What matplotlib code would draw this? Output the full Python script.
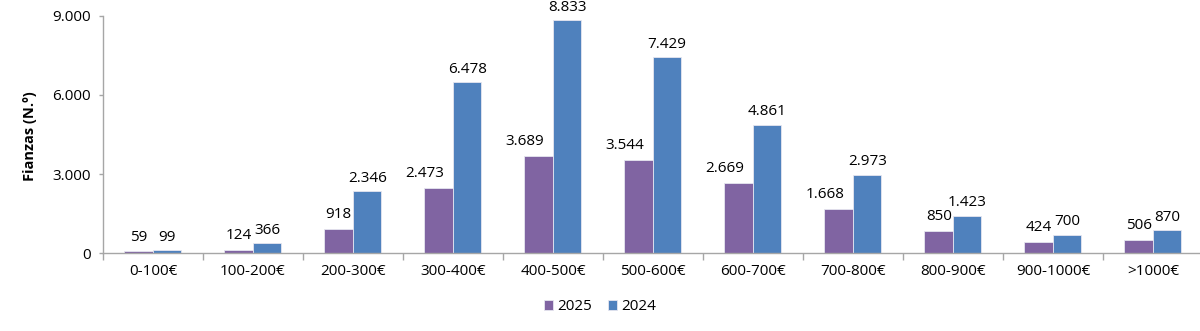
import matplotlib.pyplot as plt
import numpy as np
from matplotlib.ticker import FuncFormatter

plt.rcParams['font.family'] = ['Open Sans', 'DejaVu Sans']

# rangos de renta
categorias = ['0-100€', '100-200€', '200-300€', '300-400€', '400-500€', '500-600€',
              '600-700€', '700-800€', '800-900€', '900-1000€', '>1000€']
fianzas_2025 = [59, 124, 918, 2473, 3689, 3544, 2669, 1668, 850, 424, 506]
fianzas_2024 = [99, 366, 2346, 6478, 8833, 7429, 4861, 2973, 1423, 700, 870]

morado = '#8064A2'
azul = '#4F81BD'
gris = '#A6A6A6'

def miles(v):
    return f'{v:,.0f}'.replace(',', '.')

fig = plt.figure(figsize=(12, 3.31), dpi=100)
ax = fig.add_axes([0.0858, 0.2356, 0.9167, 0.7161])

x = np.arange(len(categorias))
w = 0.285
b1 = ax.bar(x - w / 2, fianzas_2025, w, color=morado, edgecolor='#E6E6F0', linewidth=0.6, label='2025')
b2 = ax.bar(x + w / 2, fianzas_2024, w, color=azul, edgecolor='#E6E6F0', linewidth=0.6, label='2024')

# etiquetas de datos (las largas de 2025 van algo a la izquierda, como en Excel)
for r, v in zip(b1, fianzas_2025):
    dx = -10 if v >= 1000 else 0
    ax.annotate(miles(v), (r.get_x() + r.get_width() / 2, v), xytext=(dx, 5),
                textcoords='offset points', ha='center', va='bottom', fontsize=11)
for r, v in zip(b2, fianzas_2024):
    ax.annotate(miles(v), (r.get_x() + r.get_width() / 2, v), xytext=(0, 4),
                textcoords='offset points', ha='center', va='bottom', fontsize=11)

ax.set_xlim(-0.5, len(categorias) - 0.5)
ax.set_ylim(0, 9000)
ax.set_yticks([0, 3000, 6000, 9000])
ax.yaxis.set_major_formatter(FuncFormatter(lambda v, p: miles(v)))
ax.set_xticks(x)
ax.set_xticklabels(categorias)
ax.set_xticks(np.arange(-0.5, len(categorias), 1), minor=True)
ax.tick_params(axis='x', which='major', length=0, pad=8, labelsize=11)
ax.tick_params(axis='x', which='minor', length=5, color=gris, width=1)
ax.tick_params(axis='y', length=3, color=gris, width=1, labelsize=11, pad=6)

for s in ['top', 'right']:
    ax.spines[s].set_visible(False)
for s in ['left', 'bottom']:
    ax.spines[s].set_color(gris)
    ax.spines[s].set_linewidth(1)

fig.text(0.025, 0.59, 'Fianzas (N.º)', rotation=90, ha='center', va='center',
         fontsize=10.5, fontweight='bold')

fig.legend(loc='center', bbox_to_anchor=(0.5, 0.073), ncol=2, frameon=False,
           fontsize=11, handlelength=0.6, handleheight=0.6, handletextpad=0.3,
           columnspacing=1.0)

fig.savefig('out.png', dpi=100)
